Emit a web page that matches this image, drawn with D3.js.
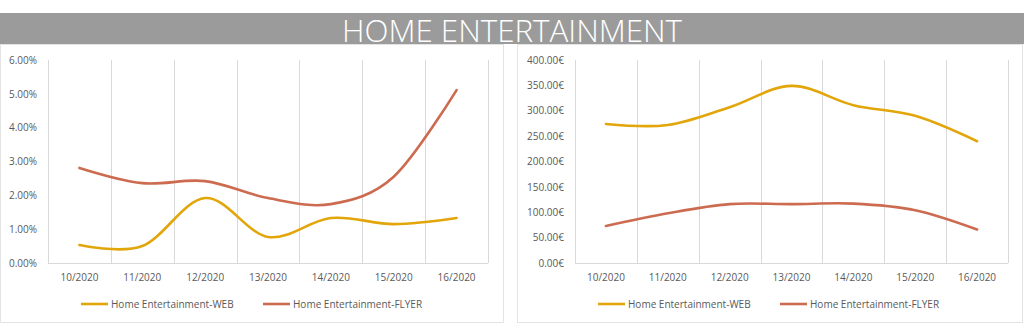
<!DOCTYPE html>
<html><head><meta charset="utf-8">
<script src="https://cdn.jsdelivr.net/npm/d3@7"></script>
<style>
body{margin:0;background:#fff;}
svg text{font-family:"Open Sans",sans-serif;}
</style></head>
<body><svg id="c" width="1024" height="326"></svg>
<script>
const title = "HOME ENTERTAINMENT";
const categories = ["10/2020","11/2020","12/2020","13/2020","14/2020","15/2020","16/2020"];
const seriesNames = ["Home Entertainment-WEB","Home Entertainment-FLYER"];
const pctWeb   = [0.0053,0.0050,0.0192,0.0077,0.0133,0.0115,0.0133];
const pctFlyer = [0.0281,0.0236,0.0242,0.0192,0.0174,0.0255,0.0511];
const eurWeb   = [274,272,307,349,311,290,240];
const eurFlyer = [73,98,116,116,117,104,66];
const pctTicks = [0,0.01,0.02,0.03,0.04,0.05,0.06];
const eurTicks = [0,50,100,150,200,250,300,350,400];
const colors = ["#E2A60A","#CC6B50"];

const svg = d3.select("#c");
// title band
svg.append("rect").attr("x",0).attr("y",13).attr("width",1024).attr("height",31).attr("fill","#9b9b9b");
svg.append("text").attr("x",512).attr("y",41.5).attr("text-anchor","middle")
  .attr("fill","#fff").attr("font-size",31).attr("font-weight",300)
  .attr("textLength",340).attr("lengthAdjust","spacingAndGlyphs").text(title);

function panel(px, pw, x0, x1, yMax, ticks, fmt, series){
  const g = svg.append("g");
  g.append("rect").attr("x",px+0.5).attr("y",44.5).attr("width",pw).attr("height",278)
    .attr("fill","#fff").attr("stroke","#e3e3e3");
  const x = d3.scaleBand().domain(categories).range([x0,x1]);
  const y = d3.scaleLinear().domain([0,yMax]).range([263,60]);
  // vertical gridlines
  const bounds = categories.map(c=>x(c)).concat([x1]);
  g.selectAll("line.grid").data(bounds).enter().append("line")
    .attr("x1",d=>Math.round(d)+0.5).attr("x2",d=>Math.round(d)+0.5)
    .attr("y1",60).attr("y2",263).attr("stroke","#d9d9d9").attr("stroke-width",1);
  // x axis baseline
  g.append("line").attr("x1",x0).attr("x2",x1).attr("y1",263.5).attr("y2",263.5)
    .attr("stroke","#d9d9d9");
  // y labels
  const ya = d3.axisLeft(y).tickValues(ticks).tickFormat(fmt).tickSize(0).tickPadding(0);
  const yg = g.append("g").attr("transform",`translate(${x0-11},0)`).call(ya);
  yg.select(".domain").remove();
  yg.selectAll("text").attr("fill","#595959").attr("font-size",10).attr("font-family","Open Sans");
  // x labels
  const xa = d3.axisBottom(x).tickSize(0).tickPadding(0);
  const xg = g.append("g").attr("transform",`translate(0,${274})`).call(xa);
  xg.select(".domain").remove();
  xg.selectAll("text").attr("fill","#595959").attr("font-size",10).attr("font-family","Open Sans");
  // lines
  const line = d3.line().x((d,i)=>x(categories[i])+x.bandwidth()/2).y(d=>y(d))
    .curve(d3.curveCardinal.tension(0));
  series.forEach((s,i)=>{
    g.append("path").attr("d",line(s)).attr("fill","none").attr("stroke",colors[i])
      .attr("stroke-width",2.6).attr("stroke-linecap","round");
  });
  // legend
  const lx = [px+81, px+263];
  seriesNames.forEach((n,i)=>{
    g.append("line").attr("x1",lx[i]).attr("x2",lx[i]+27).attr("y1",304).attr("y2",304)
      .attr("stroke",colors[i]).attr("stroke-width",2.6);
    g.append("text").attr("x",lx[i]+30).attr("y",307.5).attr("fill","#595959")
      .attr("font-size",10).text(n);
  });
}
panel(0, 503, 48, 488, 0.06, pctTicks, d3.format(".2%"), [pctWeb,pctFlyer]);
panel(517, 505, 575, 1008, 400, eurTicks, d=>d3.format(".2f")(d)+"€", [eurWeb,eurFlyer]);
</script></body></html>
